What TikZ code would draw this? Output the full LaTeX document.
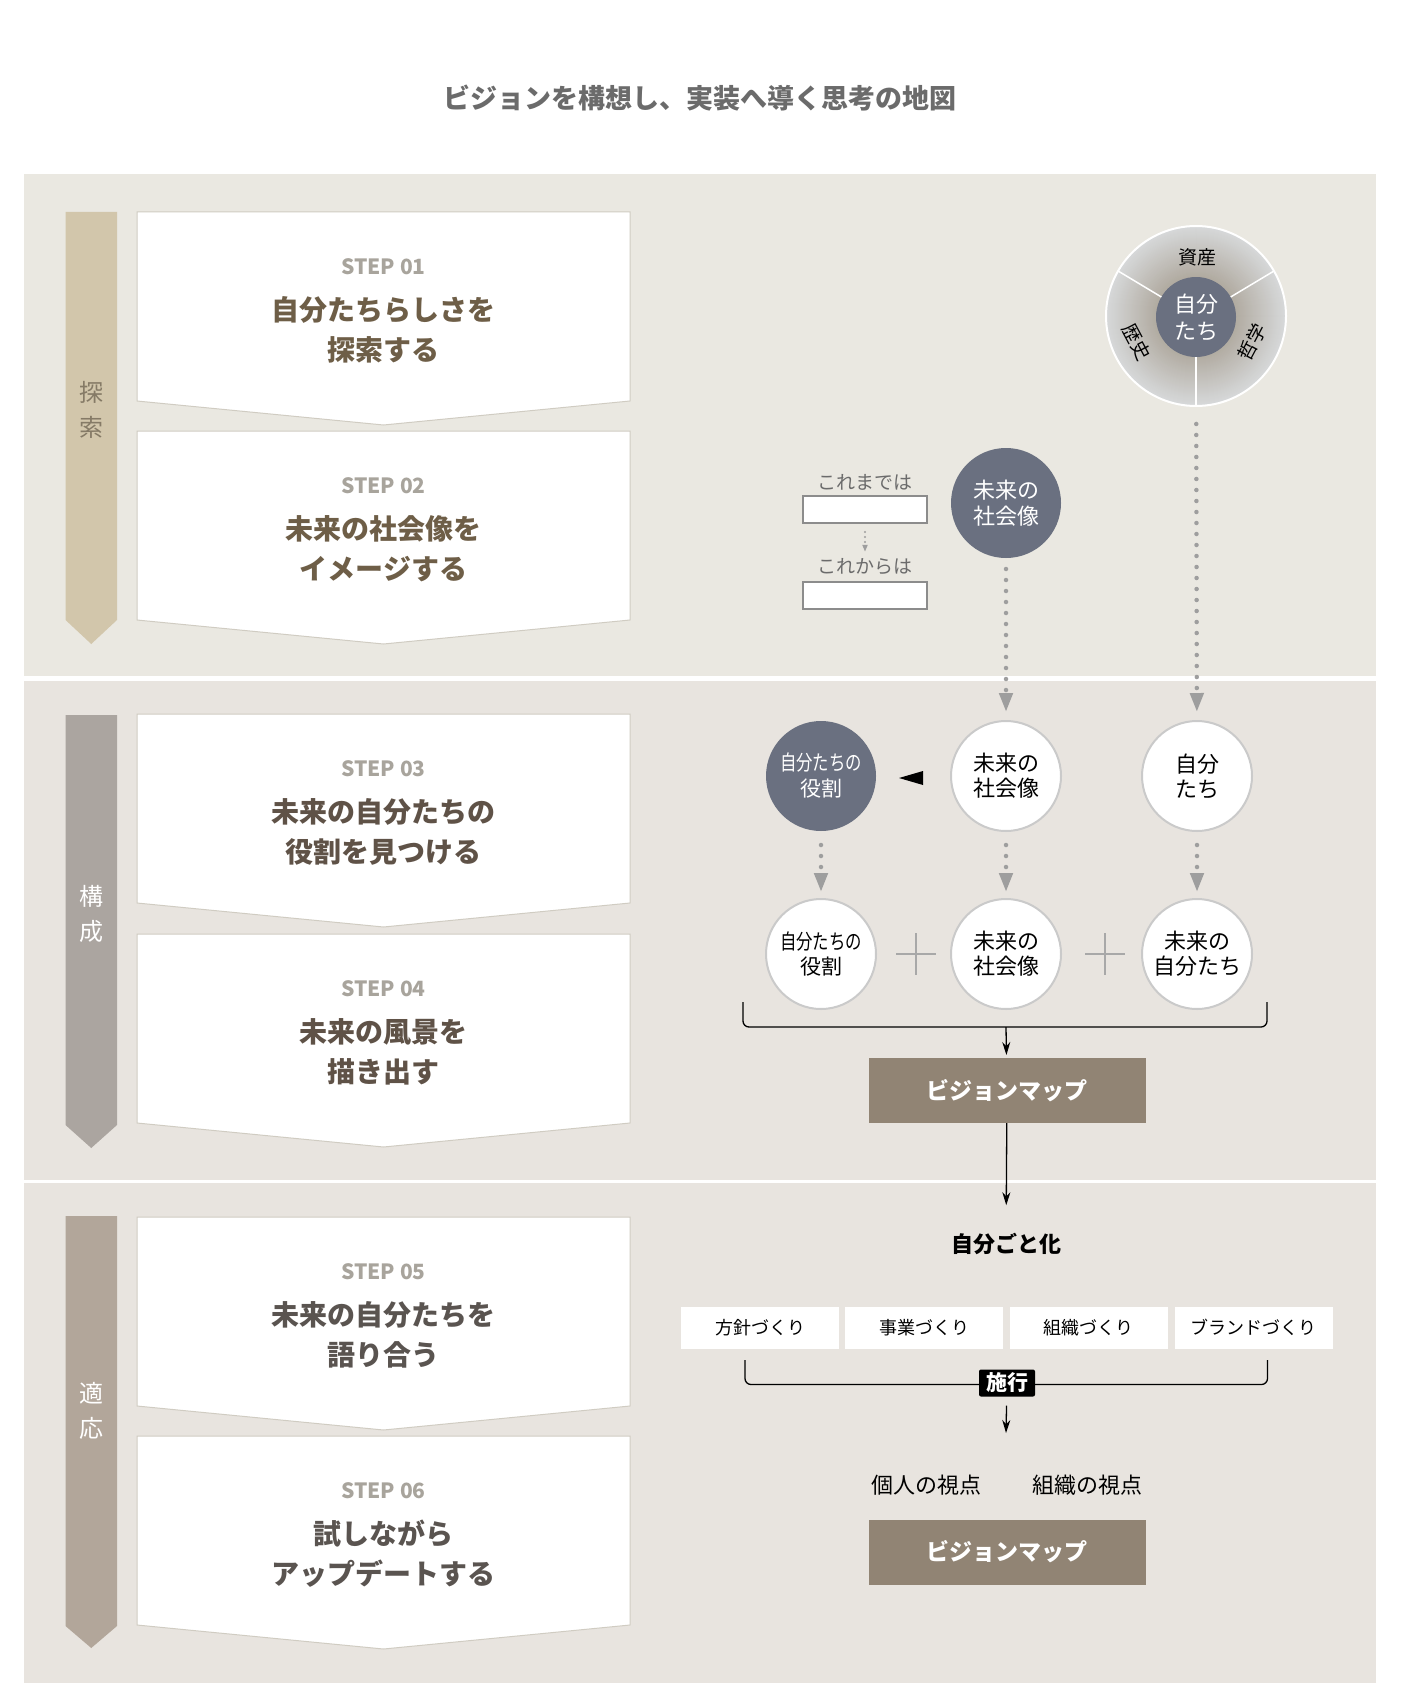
\documentclass[tikz,border=0pt]{standalone}
\usepackage{fontspec}
\usepackage{graphicx}
\setmainfont{Noto Sans CJK JP}
\usetikzlibrary{arrows.meta,shapes.geometric,calc}
\definecolor{bandA}{HTML}{EAE8E1}
\definecolor{bandB}{HTML}{E8E4DF}
\definecolor{barA}{HTML}{D2C6AB}
\definecolor{barB}{HTML}{ABA5A0}
\definecolor{barC}{HTML}{B2A69A}
\definecolor{labA}{HTML}{857A66}
\definecolor{slate}{HTML}{6A7080}
\definecolor{mapcol}{HTML}{918474}
\definecolor{stepgray}{HTML}{A8A49C}
\definecolor{brownA}{HTML}{6E5E47}
\definecolor{brownB}{HTML}{5F5247}
\definecolor{brownC}{HTML}{5A5450}
\definecolor{dotgray}{HTML}{9E9E9E}
\definecolor{titlegray}{HTML}{6B6B6B}
\definecolor{boxedge}{HTML}{D0CCC2}
\definecolor{circedge}{HTML}{CACACA}
\definecolor{ringin}{HTML}{B1ABA1}
\definecolor{ringout}{HTML}{D7D9DA}
\definecolor{plusgray}{HTML}{A8A8A8}
\definecolor{smallboxedge}{HTML}{8C8C8C}
\newcommand\FS[2]{\fontsize{#1}{#2}\selectfont}
\newcommand\cond[1]{\scalebox{0.78}[1]{#1}}
\tikzset{
  stepnum/.style={font=\bfseries\FS{21}{25}, text=stepgray},
  steptitle/.style={font=\bfseries\FS{28}{40}, align=center},
  barlab/.style={font=\FS{24}{35}, align=center},
  darkc/.style={circle, fill=slate, minimum size=110, text=white, font=\FS{22}{26}, align=center},
  whitec/.style={circle, fill=white, draw=circedge, line width=2, minimum size=110, font=\FS{22}{25}, align=center},
  dotarrow/.style={draw=dotgray, line width=4.5, dash pattern=on 0pt off 11pt, line cap=round, -{Triangle[length=19,width=13,fill=dotgray]}},
  smalldot/.style={draw=dotgray, line width=2.2, dash pattern=on 0pt off 5pt, line cap=round, -{Triangle[length=7,width=5,fill=dotgray]}},
  blackarrow/.style={draw=black, line width=1.3, -{Stealth[length=13,width=8]}},
  bracket/.style={draw=black, line width=1.3, rounded corners=6},
  mapbox/.style={fill=mapcol, minimum width=277, minimum height=65, text=white, font=\bfseries\FS{23}{28}},
  smallbox/.style={fill=white, minimum width=158, minimum height=42, font=\FS{18}{22}},
  inputbox/.style={draw=smallboxedge, fill=white, line width=1.2, minimum width=124, minimum height=27},
  greylab/.style={font=\FS{19}{22}, text=titlegray},
  pluslines/.style={draw=plusgray, line width=1.5},
  ringlab/.style={font=\FS{19}{23}},
}
% #1 name, #2 top y, #3 number, #4 line 1, #5 line 2, #6 text colour
\newcommand\StepBox[6]{%
  \draw[boxedge, fill=white, line width=1] (137,#2) -- (630,#2) -- (630,{#2+189}) -- (383.5,{#2+213}) -- (137,{#2+189}) -- cycle;
  \node[stepnum] (#1n) at (383.5,{#2+55}) {STEP #3};
  \node[steptitle, text=#6] (#1t) at (383.5,{#2+118}) {#4\\#5};
}
\begin{document}
\begin{tikzpicture}[x=1pt,y=-1pt, every node/.style={inner sep=0pt, outer sep=0pt}]
\fill[white] (0,0) rectangle (1400,1704);
\useasboundingbox (0,0) rectangle (1400,1704);

\node[font=\bfseries\FS{27}{32}, text=titlegray] (title) at (700,98) {ビジョンを構想し、実装へ導く思考の地図};

% bands
\fill[bandA] (24,174) rectangle (1376,676);
\fill[bandB] (24,681) rectangle (1376,1180);
\fill[bandB] (24,1183) rectangle (1376,1683);

% phase bars
\fill[barA] (65.5,212) -- (117,212) -- (117,620) -- (91.25,644) -- (65.5,620) -- cycle;
\fill[barB] (65.5,715) -- (117,715) -- (117,1125) -- (91.25,1148) -- (65.5,1125) -- cycle;
\fill[barC] (65.5,1216) -- (117,1216) -- (117,1626) -- (91.25,1648) -- (65.5,1626) -- cycle;
\node[barlab, text=labA] (ph1) at (91.25,409.5) {探\\索};
\node[barlab, text=white] (ph2) at (91.25,914) {構\\成};
\node[barlab, text=white] (ph3) at (91.25,1411) {適\\応};

% step boxes
\StepBox{s1}{212}{01}{自分たちらしさを}{探索する}{brownA}
\StepBox{s2}{431}{02}{未来の社会像を}{イメージする}{brownA}
\StepBox{s3}{714}{03}{未来の自分たちの}{役割を見つける}{brownB}
\StepBox{s4}{934}{04}{未来の風景を}{描き出す}{brownB}
\StepBox{s5}{1217}{05}{未来の自分たちを}{語り合う}{brownC}
\StepBox{s6}{1436}{06}{試しながら}{アップデートする}{brownC}

% ---- band 1 right ----
\coordinate (ringc) at (1196,316);
\foreach \i in {0,...,50} {
  \pgfmathtruncatemacro\pc{2*\i}
  \fill[ringin!\pc!ringout] (ringc) circle ({90-\i});
}
\node[circle, minimum size=180, draw=white, line width=2] (ring) at (ringc) {};
\node[circle, fill=slate, minimum size=80, text=white, font=\FS{22}{27}, align=center] (hub) at (1196,317) {自分\\たち};
\draw[white, line width=1.5] (hub.150) -- (ring.150);
\draw[white, line width=1.5] (hub.30) -- (ring.30);
\draw[white, line width=1.5] (hub.270) -- (ring.270);
\node[ringlab] (shisan) at (1197,257) {資産};
\node[ringlab, rotate=-62] (rekishi) at (1137,342) {歴史};
\node[ringlab, rotate=62] (tetsu) at (1252,342) {哲学};

\node[darkc] (fut0) at (1006,503) {未来の\\社会像};

\node[greylab] (lab1) at (865,482) {これまでは};
\node[inputbox] (bx1) at (865,509.5) {};
\node[greylab] (lab2) at (865,567) {これからは};
\node[inputbox] (bx2) at (865,595.5) {};
\draw[smalldot, shorten <=9, shorten >=7] (bx1) -- (lab2);

% ---- band 2 right ----
\node[darkc, font=\FS{21}{26}] (role1) at (821,776) {\cond{自分たちの}\\役割};
\node[whitec] (fut1) at (1006,776) {未来の\\社会像};
\node[whitec] (self1) at (1197,776) {自分\\たち};
\fill[black] (899,778) -- (923,771) -- (923,785) -- cycle;

\draw[dotarrow, shorten <=11, shorten >=9] (fut0) -- (fut1);
\draw[dotarrow, shorten <=18, shorten >=9] (ring) -- (self1);

\node[whitec, font=\FS{21}{25}] (role2) at (821,954) {\cond{自分たちの}\\役割};
\node[whitec] (fut2) at (1006,954) {未来の\\社会像};
\node[whitec] (self2) at (1197,954) {未来の\\自分たち};

\draw[dotarrow, shorten <=14, shorten >=7] (role1) -- (role2);
\draw[dotarrow, shorten <=14, shorten >=7] (fut1) -- (fut2);
\draw[dotarrow, shorten <=14, shorten >=7] (self1) -- (self2);

\coordinate (plusA) at (916,954);
\coordinate (plusB) at (1105,954);
\draw[pluslines] ($(plusA)+(-20,0)$) -- ($(plusA)+(20,0)$);
\draw[pluslines] ($(plusA)+(0,-21)$) -- ($(plusA)+(0,21)$);
\draw[pluslines] ($(plusB)+(-20,0)$) -- ($(plusB)+(20,0)$);
\draw[pluslines] ($(plusB)+(0,-21)$) -- ($(plusB)+(0,21)$);

\coordinate (brL) at (743,1002);
\coordinate (brR) at (1267,1002);
\coordinate (brM) at (1006,1027);
\draw[bracket] (brL) -- (743,1027) -- (1267,1027) -- (brR);
\node[mapbox] (map1) at (1007,1090.5) {ビジョンマップ};
\draw[blackarrow, shorten >=3] (brM) -- (map1);

% ---- band 3 right ----
\node[font=\bfseries\FS{22}{26}] (jibun) at (1006,1244) {自分ごと化};
\draw[blackarrow, shorten >=28] (map1) -- (jibun);

\node[smallbox] (k1) at (760,1327.5) {方針づくり};
\node[smallbox] (k2) at (924,1327.5) {事業づくり};
\node[smallbox] (k3) at (1088.5,1327.5) {組織づくり};
\node[smallbox] (k4) at (1253.5,1327.5) {ブランドづくり};

\coordinate (br2L) at (745,1360);
\coordinate (br2R) at (1267.5,1360);
\draw[bracket] (br2L) -- (745,1384.5) -- (1267.5,1384.5) -- (br2R);
\node[fill=black, text=white, rounded corners=2, minimum width=56, minimum height=27, font=\bfseries\FS{21}{24}] (shiko) at (1007,1383) {施行};
\coordinate (shikoEnd) at (1006,1433);
\draw[blackarrow, shorten <=9] (shiko) -- (shikoEnd);

\node[font=\FS{22}{26}] (kojin) at (926,1485) {個人の視点};
\node[font=\FS{22}{26}] (soshiki) at (1087,1485) {組織の視点};
\node[mapbox] (map2) at (1007,1552) {ビジョンマップ};
\end{tikzpicture}
\end{document}
